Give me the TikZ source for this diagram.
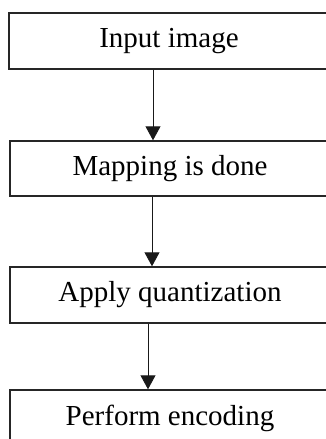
\documentclass[tikz,border=0pt]{standalone}
\usepackage{fontspec}
\setmainfont{Liberation Serif}
\usetikzlibrary{arrows.meta}
\begin{document}
\begin{tikzpicture}[x=1pt,y=1pt,
  stepbox/.style={draw=black!85, line width=1.4pt, rectangle, minimum width=320pt,
    inner sep=0pt, font=\fontsize{29}{31}\selectfont, text=black},
  arr/.style={draw=black!90, line width=0.9pt, -{Triangle[width=15pt,length=14pt]}}]
\useasboundingbox (0,0) rectangle (326,-439);
\clip (0,0) rectangle (326,-439);
\node[stepbox, minimum height=56pt] (b1) at (169,-41) {Input image};
\node[stepbox, minimum height=55pt] (b2) at (170,-168.5) {Mapping is done};
\node[stepbox, minimum height=56pt] (b3) at (170,-295) {Apply quantization};
\node[stepbox, minimum height=56pt] (b4) at (170,-418) {Perform encoding};
\draw[arr] ([xshift=-16pt]b1.south) -- ([xshift=-16pt]b1.south |- b2.north);
\draw[arr] ([xshift=-18pt]b2.south) -- ([xshift=-18pt]b2.south |- b3.north);
\draw[arr] ([xshift=-22pt]b3.south) -- ([xshift=-22pt]b3.south |- b4.north);
\end{tikzpicture}
\end{document}
